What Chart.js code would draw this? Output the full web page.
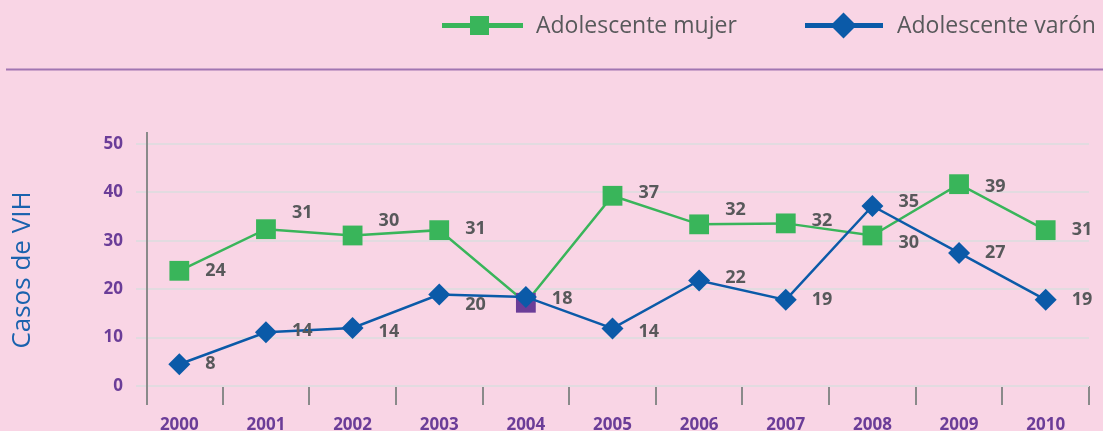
<!DOCTYPE html>
<html>
<head>
<meta charset="utf-8">
<script src="https://cdn.jsdelivr.net/npm/chart.js@4/dist/chart.umd.min.js"></script>
<style>
  html, body { margin: 0; padding: 0; background: #f9d5e5; }
  #wrap { width: 1103px; height: 431px; }
</style>
</head>
<body>
<div id="wrap"><canvas id="chart" width="1103" height="431"></canvas></div>
<script>
// Values
const years = ['2000', '2001', '2002', '2003', '2004', '2005', '2006', '2007', '2008', '2009', '2010'];
const mujer = [23.8, 32.4, 31.1, 32.2, 17.2, 39.3, 33.4, 33.6, 31.1, 41.7, 32.2];
const varon = [4.5, 11.1, 12.0, 18.9, 18.4, 11.9, 21.8, 17.8, 37.2, 27.5, 17.8];
// printed numbers next to the points
const mujerLabels = ['24', '31', '30', '31', '', '37', '32', '32', '30', '39', '31'];
const varonLabels = ['8', '14', '14', '20', '18', '14', '22', '19', '35', '27', '19'];
const yTicks = [0, 10, 20, 30, 40, 50];

const GREEN = '#39b55a';
const BLUE = '#0b5aa8';
const PURPLE = '#6b3d98';
const TEXT_GREY = '#58595b';
const FONT = '"Open Sans", "DejaVu Sans", sans-serif';

// vertical nudges for the value labels (px)
const mujerLabelDy = [0, -16, -15, -1, 0, -3, -14, -3, 7, 3, 0];
const varonLabelDy = [0, -1, 4, 10, 2, 3, -3, 0, -4, 0, 0];

const decorations = {
    id: 'decorations',
    beforeDraw(chart) {
        const ctx = chart.ctx;
        ctx.save();
        // separator under the legend
        ctx.strokeStyle = '#a175b2';
        ctx.lineWidth = 2;
        ctx.beginPath();
        ctx.moveTo(6, 69.5);
        ctx.lineTo(1103, 69.5);
        ctx.stroke();

        // legend
        ctx.lineWidth = 5;
        ctx.strokeStyle = GREEN;
        ctx.beginPath();
        ctx.moveTo(442, 25.5);
        ctx.lineTo(523, 25.5);
        ctx.stroke();
        ctx.fillStyle = GREEN;
        ctx.fillRect(479.5 - 9.5, 25.5 - 9.5, 19, 19);

        ctx.strokeStyle = BLUE;
        ctx.beginPath();
        ctx.moveTo(805, 25.5);
        ctx.lineTo(883, 25.5);
        ctx.stroke();
        ctx.fillStyle = BLUE;
        ctx.beginPath();
        ctx.moveTo(843.5, 12.5);
        ctx.lineTo(856.5, 25.5);
        ctx.lineTo(843.5, 38.5);
        ctx.lineTo(830.5, 25.5);
        ctx.closePath();
        ctx.fill();

        ctx.fillStyle = TEXT_GREY;
        ctx.font = '23px ' + FONT;
        ctx.textAlign = 'left';
        ctx.textBaseline = 'middle';
        ctx.fillText('Adolescente mujer', 536, 26);
        ctx.fillText('Adolescente varón', 897, 26);

        // y axis title
        ctx.translate(23, 270);
        ctx.rotate(-Math.PI / 2);
        ctx.fillStyle = '#1a62ae';
        ctx.font = '26px ' + FONT;
        ctx.textAlign = 'center';
        ctx.fillText('Casos de VIH', 0, 0);
        ctx.restore();
    },
    afterDraw(chart) {
        const ctx = chart.ctx;
        const area = chart.chartArea;
        ctx.save();
        // vertical axis line sits a little inside the plot area
        ctx.strokeStyle = '#8a8a8a';
        ctx.lineWidth = 2;
        ctx.beginPath();
        ctx.moveTo(area.left + 11, area.top - 12);
        ctx.lineTo(area.left + 11, area.bottom + 19);
        ctx.stroke();

        // value labels
        ctx.fillStyle = TEXT_GREY;
        ctx.font = 'bold 18px ' + FONT;
        ctx.textAlign = 'left';
        ctx.textBaseline = 'middle';
        const sets = [[mujerLabels, mujerLabelDy], [varonLabels, varonLabelDy]];
        sets.forEach(([labels, dys], di) => {
            const meta = chart.getDatasetMeta(di);
            meta.data.forEach((pt, i) => {
                if (!labels[i]) return;
                ctx.fillText(labels[i], pt.x + 26, pt.y + dys[i]);
            });
        });
        ctx.restore();
    }
};

new Chart(document.getElementById('chart'), {
    type: 'line',
    data: {
        labels: years,
        datasets: [
            {
                label: 'Adolescente mujer',
                data: mujer,
                borderColor: GREEN,
                borderWidth: 2.5,
                pointStyle: 'rect',
                pointRadius: 14,
                pointHoverRadius: 14,
                pointBorderWidth: 0,
                pointBackgroundColor: mujer.map((v, i) => i === 4 ? PURPLE : GREEN),
                tension: 0,
                order: 1
            },
            {
                label: 'Adolescente varón',
                data: varon,
                borderColor: BLUE,
                borderWidth: 2.5,
                pointStyle: 'rectRot',
                pointRadius: 11,
                pointHoverRadius: 11,
                pointBorderWidth: 0,
                pointBackgroundColor: BLUE,
                tension: 0,
                order: 0
            }
        ]
    },
    options: {
        responsive: false,
        animation: false,
        layout: { padding: { top: 144, right: 14, bottom: 0, left: 0 } },
        plugins: {
            legend: { display: false },
            tooltip: { enabled: false }
        },
        scales: {
            x: {
                type: 'category',
                offset: true,
                afterFit: (scale) => { scale.height = 45; },
                border: { display: false },
                grid: {
                    offset: true,
                    drawOnChartArea: false,
                    drawTicks: true,
                    tickLength: 19,
                    lineWidth: 2,
                    color: (c) => c.index === 0 ? 'rgba(0,0,0,0)' : '#8a8a8a'
                },
                ticks: {
                    color: PURPLE,
                    font: { family: FONT, size: 17, weight: 'bold' },
                    padding: 10,
                    maxRotation: 0,
                    autoSkip: false
                }
            },
            y: {
                min: 0,
                max: 50,
                afterFit: (scale) => { scale.width = 136; },
                afterBuildTicks: (scale) => { scale.ticks = yTicks.map(v => ({ value: v })); },
                border: { display: false },
                grid: {
                    color: '#e2dbe0',
                    lineWidth: 2,
                    drawTicks: false
                },
                ticks: {
                    color: PURPLE,
                    font: { family: FONT, size: 17, weight: 'bold' },
                    padding: 13
                }
            }
        }
    },
    plugins: [decorations]
});
</script>
</body>
</html>
